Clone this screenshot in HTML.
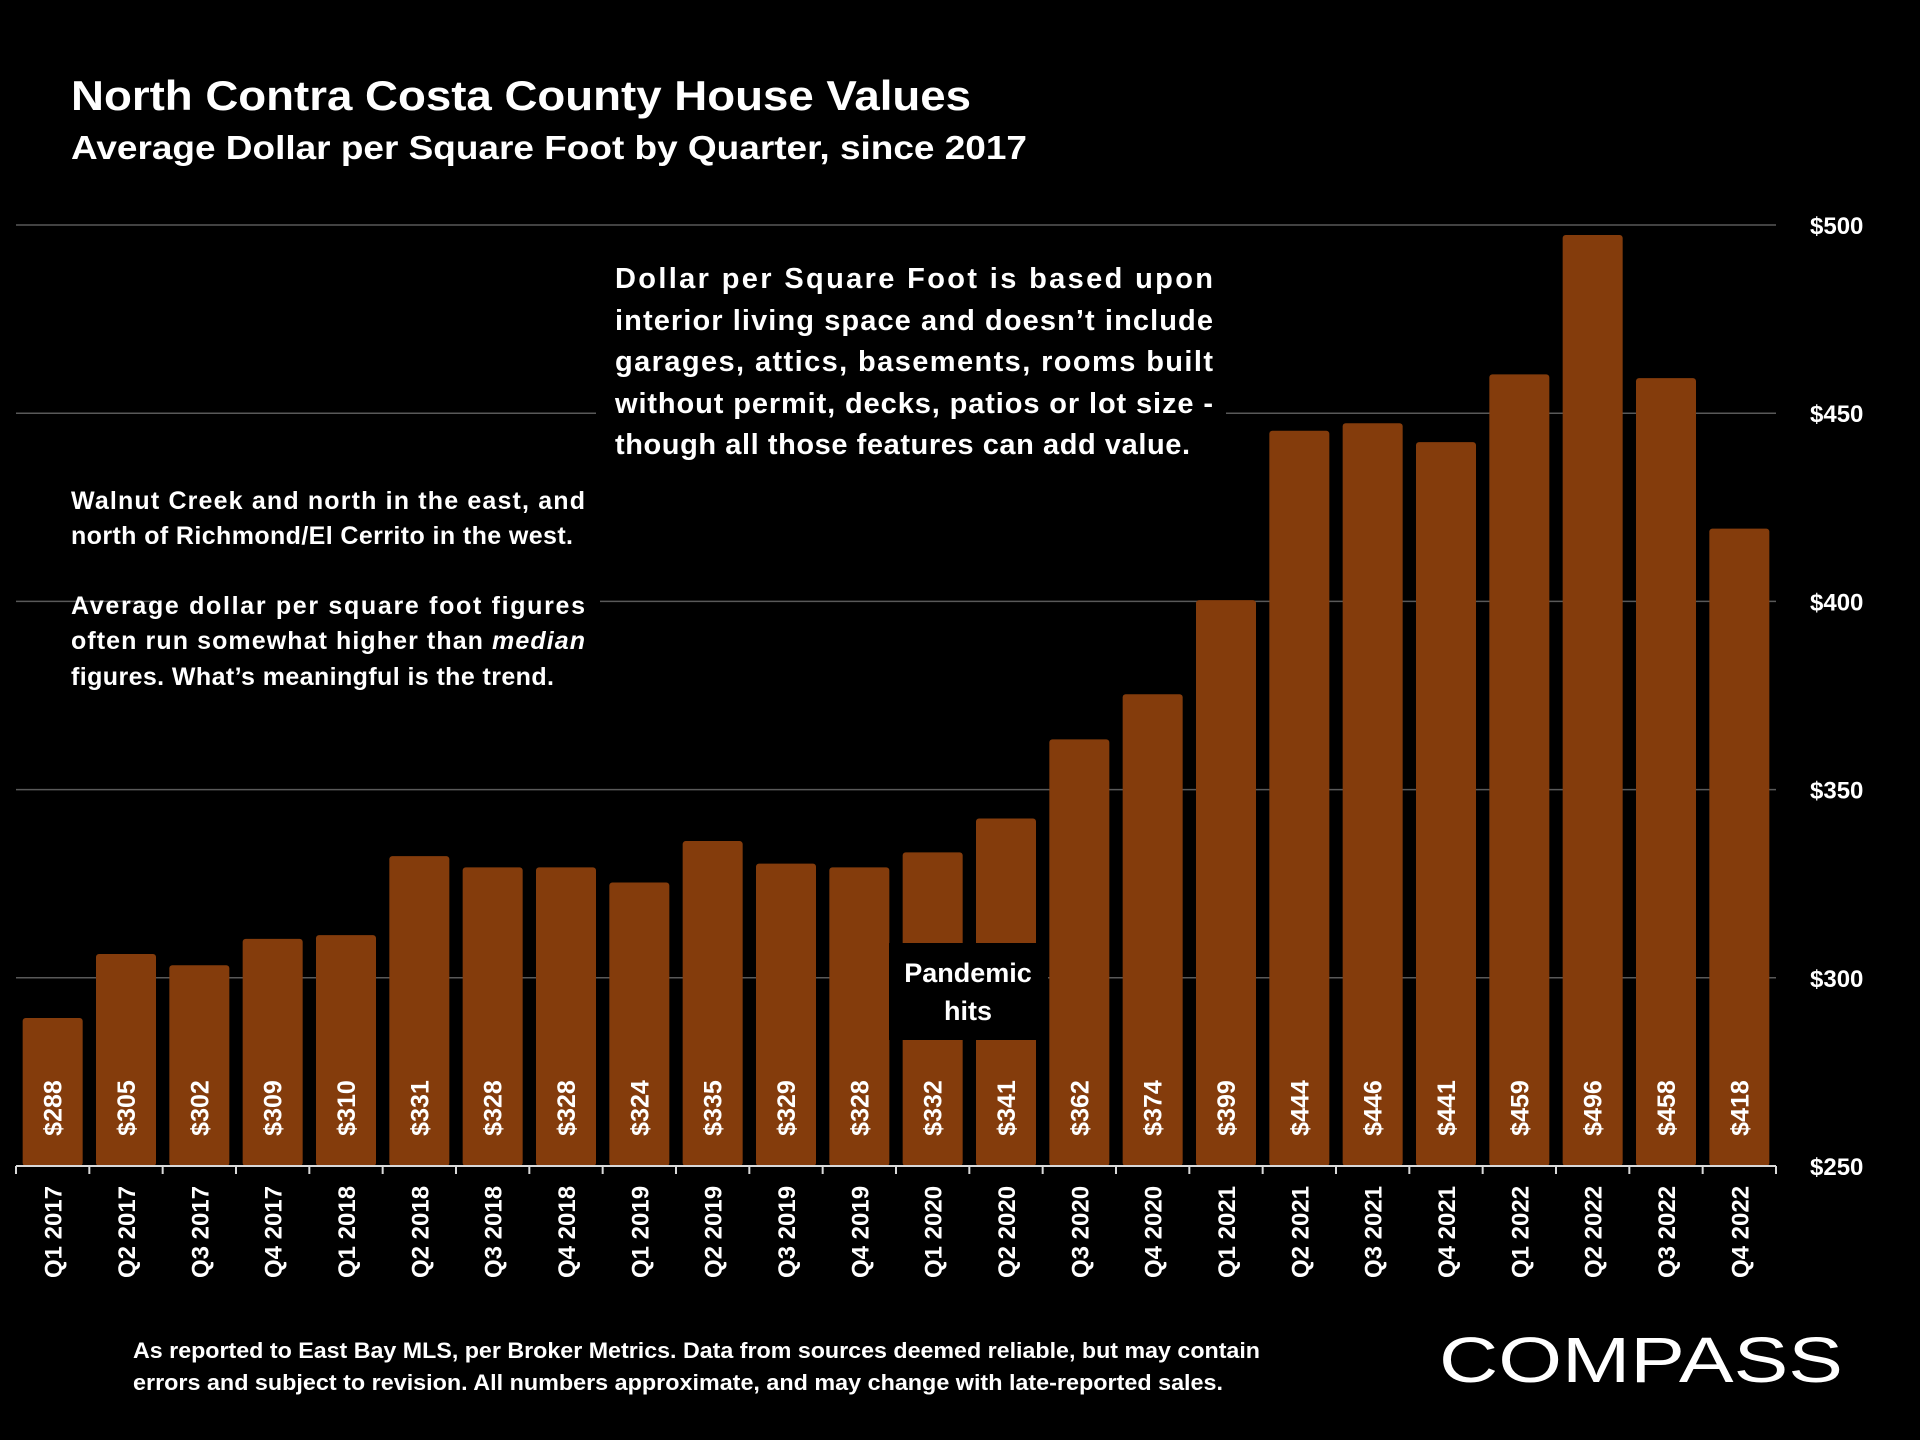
<!DOCTYPE html>
<html><head><meta charset="utf-8"><style>
html,body{margin:0;padding:0;background:#000;}
svg{display:block;}
text{font-family:"Liberation Sans",sans-serif;fill:#fff;font-weight:bold;}
</style></head><body>
<svg id="chart" width="1920" height="1440" viewBox="0 0 1920 1440" xmlns="http://www.w3.org/2000/svg">
<rect width="1920" height="1440" fill="#000"/>
<text x="71" y="110" font-size="42" textLength="900" lengthAdjust="spacingAndGlyphs">North Contra Costa County House Values</text>
<text x="71" y="159" font-size="33" textLength="956" lengthAdjust="spacingAndGlyphs">Average Dollar per Square Foot by Quarter, since 2017</text>
<g id="grid"></g><g id="bars"></g><g id="axis"></g>
<g>
<rect x="596" y="250" width="630" height="215" fill="#000"/>
<text x="615" y="288" font-size="29" textLength="598" lengthAdjust="spacing">Dollar per Square Foot is based upon</text>
<text x="615" y="330" font-size="29" textLength="598" lengthAdjust="spacing">interior living space and doesn’t include</text>
<text x="615" y="371" font-size="29" textLength="598" lengthAdjust="spacing">garages, attics, basements, rooms built</text>
<text x="615" y="413" font-size="29" textLength="598" lengthAdjust="spacing">without permit, decks, patios or lot size -</text>
<text x="615" y="454" font-size="29" textLength="575" lengthAdjust="spacing">though all those features can add value.</text>
</g>
<g>
<rect x="155" y="470" width="445" height="230" fill="#000"/>
<text x="71" y="509" font-size="25" textLength="514" lengthAdjust="spacing">Walnut Creek and north in the east, and</text>
<text x="71" y="544" font-size="25" textLength="502" lengthAdjust="spacing">north of Richmond/El Cerrito in the west.</text>
<text x="71" y="614" font-size="25" textLength="514" lengthAdjust="spacing">Average dollar per square foot figures</text>
<text x="71" y="649" font-size="25" textLength="514" lengthAdjust="spacing">often run somewhat higher than <tspan font-style="italic">median</tspan></text>
<text x="71" y="685" font-size="25" textLength="483" lengthAdjust="spacing">figures. What’s meaningful is the trend.</text>
</g>
<g>
<rect x="889" y="943" width="159" height="97" fill="#000"/>
<text x="968" y="982" font-size="27" text-anchor="middle">Pandemic</text>
<text x="968" y="1020" font-size="27" text-anchor="middle">hits</text>
</g>
<text x="133" y="1358" font-size="22" textLength="1127" lengthAdjust="spacingAndGlyphs">As reported to East Bay MLS, per Broker Metrics. Data from sources deemed reliable, but may contain</text>
<text x="133" y="1390" font-size="22" textLength="1090" lengthAdjust="spacingAndGlyphs">errors and subject to revision. All numbers approximate, and may change with late-reported sales.</text>
<text x="1439" y="1382" font-size="64" style="font-weight:normal" textLength="404" lengthAdjust="spacingAndGlyphs">COMPASS</text>
</svg>
<script>
const categories=["Q1 2017","Q2 2017","Q3 2017","Q4 2017","Q1 2018","Q2 2018","Q3 2018","Q4 2018","Q1 2019","Q2 2019","Q3 2019","Q4 2019","Q1 2020","Q2 2020","Q3 2020","Q4 2020","Q1 2021","Q2 2021","Q3 2021","Q4 2021","Q1 2022","Q2 2022","Q3 2022","Q4 2022"];
const values=[288,305,302,309,310,331,328,328,324,335,329,328,332,341,362,374,399,444,446,441,459,496,458,418];
const yTicks=[250,300,350,400,450,500];
const NS="http://www.w3.org/2000/svg";
const X0=16,X1=1776,Y0=1166,Y1=225,VMIN=250,VMAX=500;
const slot=(X1-X0)/categories.length;
function y(v){return Y0-(v-VMIN)/(VMAX-VMIN)*(Y0-Y1);}
function xc(i){return X0+slot*(i+0.5);}
function mk(tag,attrs,parent){const e=document.createElementNS(NS,tag);for(const k in attrs)e.setAttribute(k,attrs[k]);parent.appendChild(e);return e;}
const grid=document.getElementById('grid'),bars=document.getElementById('bars'),axis=document.getElementById('axis');
yTicks.forEach(t=>{
  if(t>VMIN){const l=mk('line',{x1:X0,x2:X1,y1:y(t),y2:y(t),stroke:'#595959','stroke-width':1.5},grid);
  
  }
  const tx=mk('text',{x:1810,y:y(t)+9,'font-size':24},axis);
  tx.textContent='$'+t;
  
  
});
values.forEach((v,i)=>{
  const w=60,x=xc(i)-w/2,top=y(v)-5;
  const r=mk('rect',{x:x,y:top,width:w,height:Y0-top,rx:3,fill:'#843C0C'},bars);
  
  
  const t=mk('text',{x:0,y:0,'font-size':25,'text-anchor':'middle',transform:`translate(${xc(i)+9},1108) rotate(-90)`},bars);
  t.textContent='$'+v;
  
  
  const c=mk('text',{x:0,y:0,'font-size':24,'text-anchor':'middle',transform:`translate(${xc(i)+9},1232) rotate(-90)`},axis);
  c.textContent=categories[i];
  
  
});
const ax=mk('line',{x1:X0,x2:X1,y1:Y0,y2:Y0,stroke:'#d9d9d9','stroke-width':2},axis);


for(let i=0;i<=categories.length;i++){
  const tk=mk('line',{x1:X0+slot*i,x2:X0+slot*i,y1:Y0,y2:Y0+8,stroke:'#d9d9d9','stroke-width':2},axis);
  
  
}
</script>
</body></html>
